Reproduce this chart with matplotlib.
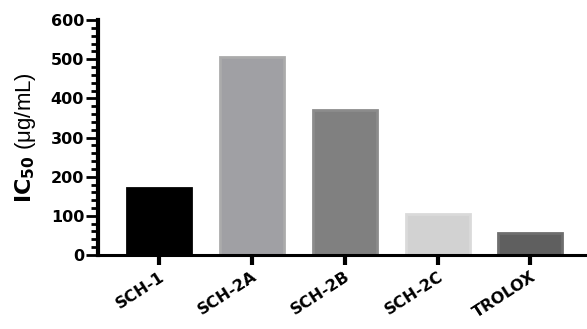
import matplotlib.pyplot as plt
from matplotlib.ticker import MultipleLocator

plt.rcParams['font.family'] = ['Liberation Sans', 'DejaVu Sans']

compounds = ["SCH-1", "SCH-2A", "SCH-2B", "SCH-2C", "TROLOX"]
ic50 = [172, 505, 370, 104, 56]
fills = ["#000000", "#a0a0a4", "#808080", "#d2d2d2", "#5f5f5f"]
edges = ["#000000", "#ababab", "#8c8c8c", "#dadada", "#6e6e6e"]

fig = plt.figure(figsize=(5.87, 3.29), dpi=100)
ax = fig.add_axes([0.167, 0.225, 0.833, 0.714])

x = range(len(compounds))
ax.bar(x, ic50, width=0.69, color=fills, edgecolor=edges, linewidth=2)

ax.set_xlim(-0.658, 4.61)
ax.set_ylim(0, 600)
ax.yaxis.set_major_locator(MultipleLocator(100))
ax.yaxis.set_minor_locator(MultipleLocator(20))

for s in ["top", "right"]:
    ax.spines[s].set_visible(False)
ax.spines["left"].set_linewidth(3)
ax.spines["bottom"].set_linewidth(2.2)

ax.tick_params(axis="y", which="major", length=9, width=2, labelsize=11.5, pad=1)
ax.tick_params(axis="y", which="minor", length=5, width=2)
ax.tick_params(axis="x", length=7, width=3, labelsize=11.5, pad=3)

ax.set_xticks(list(x))
ax.set_xticklabels(compounds, rotation=33, ha="right", rotation_mode="anchor",
                   fontweight="bold", family="DejaVu Sans")
for lab in ax.get_yticklabels():
    lab.set_fontweight("bold")
    lab.set_family("DejaVu Sans")

ax.set_ylabel(r"$\mathbf{IC_{50}}$ (μg/mL)", fontsize=16, labelpad=2)
ax.yaxis.set_label_coords(-0.122, 0.5)

fig.savefig("out.png", dpi=100)
